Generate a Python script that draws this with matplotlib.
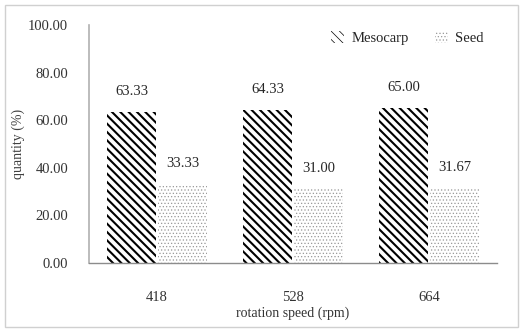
import matplotlib.pyplot as plt
import matplotlib.patches as mpatches
import numpy as np

speeds = ["418", "528", "664"]
mesocarp = [63.33, 64.33, 65.00]
seed = [33.33, 31.00, 31.67]

plt.rcParams['font.family'] = ['Liberation Serif', 'DejaVu Serif']

fig = plt.figure(figsize=(5.22, 3.29), dpi=100)
ax = fig.add_axes([0.1705, 0.2006, 0.7815, 0.7234])

x = np.arange(len(speeds))
w = 0.36
plt.rcParams['hatch.linewidth'] = 1.5
b1 = ax.bar(x - w / 2 - 0.005, mesocarp, w, color='white', edgecolor='black',
            linewidth=0, hatch='\\\\\\\\', label='Mesocarp')
plt.rcParams['hatch.linewidth'] = 0.5
b2 = ax.bar(x + w / 2 + 0.01, seed, w, color='white', edgecolor='#999999',
            linewidth=0, hatch='.....', label='Seed')

for bars, vals in ((b1, mesocarp), (b2, seed)):
    for r, v in zip(bars, vals):
        ax.annotate("%.2f" % v, (r.get_x() + r.get_width() / 2, v),
                    xytext=(0, 10), textcoords='offset points',
                    ha='center', va='bottom', fontsize=10.5, color='#262626')

ax.set_xlim(-0.5, 2.5)
ax.set_ylim(0, 100)
ax.set_yticks(np.arange(0, 101, 20))
ax.set_yticklabels(["%.2f" % t for t in np.arange(0, 101, 20)])
ax.set_xticks(x)
ax.set_xticklabels(speeds)
ax.tick_params(length=0, labelsize=10.5, colors='#333333')
ax.tick_params(axis='x', pad=20)
ax.tick_params(axis='y', pad=15)
ax.set_xlabel('rotation speed (rpm)', fontsize=10, color='#333333', labelpad=2)
ax.set_ylabel('quantity (%)', fontsize=10, color='#404040')
ax.yaxis.set_label_coords(-0.157, 0.5)

for s in ('top', 'right'):
    ax.spines[s].set_visible(False)
ax.spines['left'].set_color('#b0b0b0')
ax.spines['left'].set_linewidth(1.2)
ax.spines['bottom'].set_color('#8c8c8c')
ax.spines['bottom'].set_linewidth(1.0)

ax.legend(loc='upper right', bbox_to_anchor=(1.0, 1.03), frameon=False,
          ncol=2, fontsize=10.5, handlelength=0.9, handleheight=0.9,
          columnspacing=1.8, handletextpad=0.5, labelcolor='#262626')

fig.patches.append(mpatches.Rectangle((0.01, 0.005), 0.983, 0.98,
                                      transform=fig.transFigure, fill=False,
                                      edgecolor='#d0d0d0', linewidth=1))

plt.savefig("out.png", dpi=100)
